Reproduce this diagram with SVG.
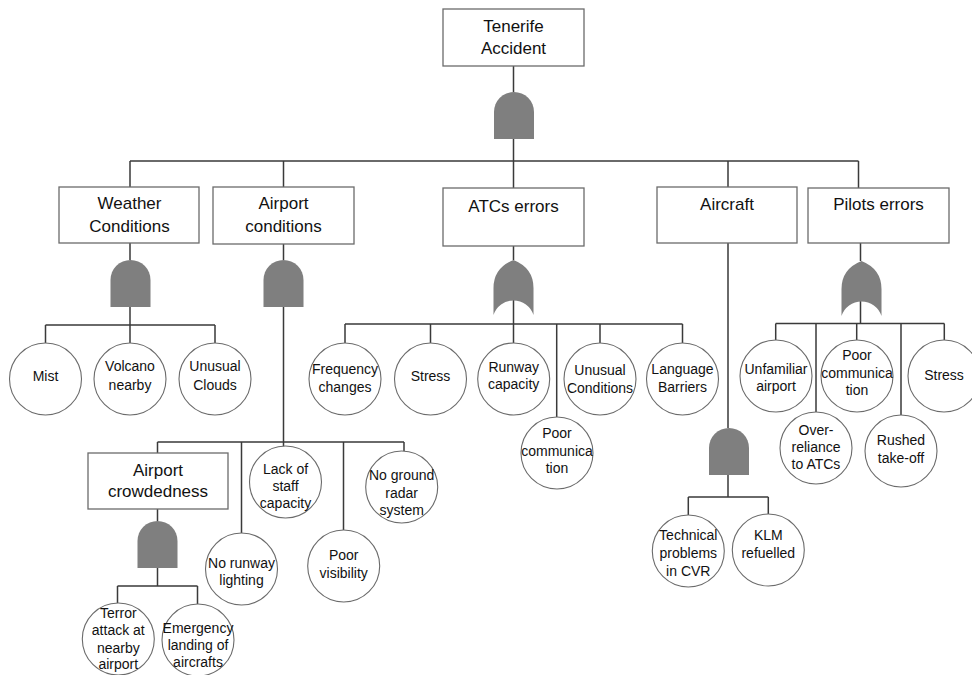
<svg xmlns="http://www.w3.org/2000/svg" width="972" height="675" viewBox="0 0 972 675">
<style>
.bg{fill:#ffffff}
.box{fill:#ffffff;stroke:#6b6b6b;stroke-width:1.3}
.ev{fill:#ffffff;stroke:#6b6b6b;stroke-width:1.1}
.gate{fill:#7f7f7f;stroke:none}
.con{fill:none;stroke:#3a3a3a;stroke-width:1.5}
.bt{font-family:"Liberation Sans",Arial,sans-serif;font-size:17px;fill:#111;text-anchor:middle}
.ct{font-family:"Liberation Sans",Arial,sans-serif;font-size:14px;fill:#111;text-anchor:middle}
</style>
<defs>
<path id="and" d="M-20,47 V20 A20,20 0 0 1 20,20 V47 Z"/>
<path id="or" d="M-20,55 V28 Q-20,8 0,0 Q20,8 20,28 V55 A21,21 0 0 0 -20,55 Z"/>
</defs>
<rect class="bg" x="0" y="0" width="972" height="675"/>

<g id="connectors">
<path class="con" d="M513.5,66 V92 M513.5,139 V161 M130,161 H858.5 M130,161 V187 M283.5,161 V187 M513.5,161 V188 M728,161 V187 M858.5,161 V188"/>
<path class="con" d="M130,243 V260 M130,307 V325 M45.5,325 H215 M45.5,325 V343 M130,325 V343 M215,325 V343"/>
<path class="con" d="M283.5,244 V260 M283.5,307 V447 M157.5,442 H404 M157.5,442 V453 M241.5,442 V533 M343.5,442 V530 M404,442 V451"/>
<path class="con" d="M157.5,509 V521 M157.5,568 V586 M117.5,586 H197.5 M117.5,586 V603 M197.5,586 V604"/>
<path class="con" d="M513.5,246 V260 M513.5,299 V324 M345,324 H682.5 M345,324 V343 M430.5,324 V343 M513.5,324 V343 M556.7,324 V417 M600,324 V343 M682.5,324 V343"/>
<path class="con" d="M728,243 V428 M728,474 V497 M688.3,497 H768.3 M688.3,497 V515 M768.3,497 V514"/>
<path class="con" d="M860.5,243 V261 M860.5,301 V323.5 M775.7,323.5 H944.3 M775.7,323.5 V340 M816,323.5 V412 M856.7,323.5 V340 M901,323.5 V415 M944.3,323.5 V340"/>
</g>

<g id="gates">
<use href="#and" class="gate" x="514" y="92"/>
<use href="#and" class="gate" x="130.5" y="260"/>
<use href="#and" class="gate" x="283.5" y="260"/>
<use href="#and" class="gate" x="157.5" y="521"/>
<use href="#and" class="gate" x="729" y="428"/>
<use href="#or" class="gate" x="513.5" y="260"/>
<use href="#or" class="gate" x="861.5" y="261"/>
</g>

<g id="n-tenerife"><rect class="box" x="443" y="9" width="141" height="57"/><text class="bt" x="513.5" y="32">Tenerife</text><text class="bt" x="513.5" y="54">Accident</text></g>
<g id="n-weather"><rect class="box" x="59" y="187" width="140" height="56"/><text class="bt" x="129.5" y="209">Weather</text><text class="bt" x="129.5" y="231.5">Conditions</text></g>
<g id="n-airport"><rect class="box" x="213" y="187" width="141" height="57"/><text class="bt" x="283.5" y="209">Airport</text><text class="bt" x="283.5" y="231.5">conditions</text></g>
<g id="n-atc"><rect class="box" x="443" y="188" width="141" height="58"/><text class="bt" x="513.5" y="212">ATCs errors</text></g>
<g id="n-aircraft"><rect class="box" x="657" y="187" width="140" height="56"/><text class="bt" x="727" y="210">Aircraft</text></g>
<g id="n-pilots"><rect class="box" x="808" y="188" width="141" height="55"/><text class="bt" x="878.5" y="210">Pilots errors</text></g>
<g id="n-crowd"><rect class="box" x="88" y="453" width="140" height="56"/><text class="bt" x="158" y="476">Airport</text><text class="bt" x="158" y="497">crowdedness</text></g>

<g id="n-mist"><circle class="ev" cx="45.5" cy="379" r="36"/><text class="ct" x="45.5" y="381">Mist</text></g>
<g id="n-volcano"><circle class="ev" cx="130" cy="379" r="36"/><text class="ct" x="130" y="371">Volcano</text><text class="ct" x="130" y="389.5">nearby</text></g>
<g id="n-clouds"><circle class="ev" cx="215" cy="379" r="36"/><text class="ct" x="215" y="371">Unusual</text><text class="ct" x="215" y="389.5">Clouds</text></g>

<g id="n-freq"><circle class="ev" cx="345" cy="379" r="36"/><text class="ct" x="345" y="374">Frequency</text><text class="ct" x="345" y="392">changes</text></g>
<g id="n-stress1"><circle class="ev" cx="430.5" cy="379" r="36"/><text class="ct" x="430.5" y="381">Stress</text></g>
<g id="n-runway"><circle class="ev" cx="513.7" cy="379" r="36"/><text class="ct" x="513.7" y="371.5">Runway</text><text class="ct" x="513.7" y="389">capacity</text></g>
<g id="n-poorcomm1"><circle class="ev" cx="557" cy="453" r="36"/><text class="ct" x="557" y="438">Poor</text><text class="ct" x="557" y="456">communica</text><text class="ct" x="557" y="473">tion</text></g>
<g id="n-unusualcond"><circle class="ev" cx="600" cy="379" r="36"/><text class="ct" x="600" y="375">Unusual</text><text class="ct" x="600" y="392.5">Conditions</text></g>
<g id="n-language"><circle class="ev" cx="682.5" cy="379" r="36"/><text class="ct" x="682.5" y="374">Language</text><text class="ct" x="682.5" y="392">Barriers</text></g>

<g id="n-unfamiliar"><circle class="ev" cx="776" cy="376" r="36"/><text class="ct" x="776" y="373.5">Unfamiliar</text><text class="ct" x="776" y="391">airport</text></g>
<g id="n-overreliance"><circle class="ev" cx="816" cy="448" r="36"/><text class="ct" x="816" y="435">Over-</text><text class="ct" x="816" y="452">reliance</text><text class="ct" x="816" y="469">to ATCs</text></g>
<g id="n-poorcomm2"><circle class="ev" cx="857" cy="376" r="36"/><text class="ct" x="857" y="360">Poor</text><text class="ct" x="857" y="378">communica</text><text class="ct" x="857" y="395">tion</text></g>
<g id="n-rushed"><circle class="ev" cx="901" cy="451" r="36"/><text class="ct" x="901" y="445">Rushed</text><text class="ct" x="901" y="463">take-off</text></g>
<g id="n-stress2"><circle class="ev" cx="944" cy="376" r="36"/><text class="ct" x="944" y="380">Stress</text></g>

<g id="n-staff"><circle class="ev" cx="285.5" cy="482" r="36"/><text class="ct" x="285.5" y="474">Lack of</text><text class="ct" x="285.5" y="491">staff</text><text class="ct" x="285.5" y="508">capacity</text></g>
<g id="n-lighting"><circle class="ev" cx="241.5" cy="569" r="36"/><text class="ct" x="241.5" y="568">No runway</text><text class="ct" x="241.5" y="585">lighting</text></g>
<g id="n-visibility"><circle class="ev" cx="343.7" cy="566" r="36"/><text class="ct" x="343.7" y="560">Poor</text><text class="ct" x="343.7" y="578">visibility</text></g>
<g id="n-radar"><circle class="ev" cx="401.7" cy="487" r="36"/><text class="ct" x="401.7" y="480">No ground</text><text class="ct" x="401.7" y="497.5">radar</text><text class="ct" x="401.7" y="515">system</text></g>

<g id="n-terror"><circle class="ev" cx="118.3" cy="639" r="36"/><text class="ct" x="118.3" y="618">Terror</text><text class="ct" x="118.3" y="635">attack at</text><text class="ct" x="118.3" y="652.5">nearby</text><text class="ct" x="118.3" y="669">airport</text></g>
<g id="n-emergency"><circle class="ev" cx="198" cy="640" r="36"/><text class="ct" x="198" y="632.5">Emergency</text><text class="ct" x="198" y="650">landing of</text><text class="ct" x="198" y="666.5">aircrafts</text></g>

<g id="n-technical"><circle class="ev" cx="688.3" cy="551" r="36"/><text class="ct" x="688.3" y="540">Technical</text><text class="ct" x="688.3" y="558">problems</text><text class="ct" x="688.3" y="576">in CVR</text></g>
<g id="n-klm"><circle class="ev" cx="768.3" cy="550" r="36"/><text class="ct" x="768.3" y="540">KLM</text><text class="ct" x="768.3" y="558">refuelled</text></g>
</svg>
